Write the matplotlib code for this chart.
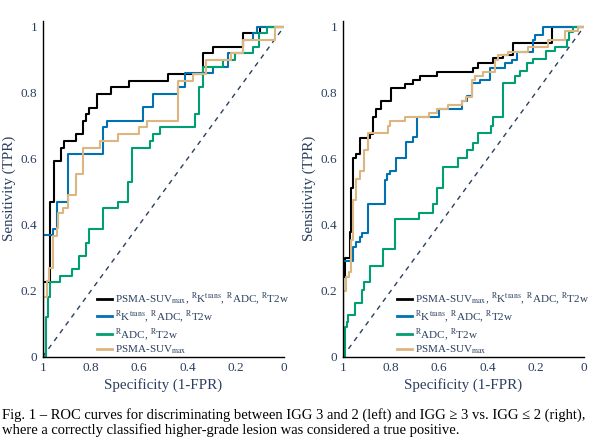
import matplotlib
matplotlib.use("Agg")
import matplotlib.pyplot as plt
import numpy as np

plt.rcParams["font.family"] = ["Liberation Serif", "DejaVu Serif"]
plt.rcParams["mathtext.fontset"] = "stix"

# ROC corner points (FPR, TPR); x axis shows specificity = 1 - FPR
left_all_fpr = [0, 0, 0.03, 0.03, 0.047, 0.047, 0.076, 0.076, 0.09, 0.09, 0.138, 0.138, 0.166, 0.166,
                0.179, 0.179, 0.193, 0.193, 0.224, 0.224, 0.282, 0.282, 0.356, 0.356, 0.518, 0.518,
                0.663, 0.663, 0.707, 0.707, 0.83, 0.83, 0.9, 0.9, 1]
left_all_tpr = [0, 0.227, 0.227, 0.47, 0.47, 0.593, 0.593, 0.633, 0.633, 0.654, 0.654, 0.674, 0.674, 0.714,
                0.714, 0.735, 0.735, 0.755, 0.755, 0.796, 0.796, 0.816, 0.816, 0.836, 0.836, 0.857,
                0.857, 0.919, 0.919, 0.939, 0.939, 0.98, 0.98, 1, 1]

left_mri_fpr = [0, 0, 0.044, 0.044, 0.06, 0.06, 0.104, 0.104, 0.251, 0.251, 0.265, 0.265, 0.414, 0.414,
                0.458, 0.458, 0.559, 0.559, 0.59, 0.59, 0.707, 0.707, 0.769, 0.769, 0.829, 0.829,
                0.87, 0.87, 0.887, 0.887, 1]
left_mri_tpr = [0, 0.369, 0.369, 0.386, 0.386, 0.47, 0.47, 0.613, 0.613, 0.695, 0.695, 0.715, 0.715, 0.756,
                0.756, 0.796, 0.796, 0.818, 0.818, 0.859, 0.859, 0.879, 0.879, 0.919, 0.919, 0.96,
                0.96, 0.98, 0.98, 1, 1]

left_adc_fpr = [0, 0.012, 0.012, 0.023, 0.023, 0.03, 0.03, 0.072, 0.072, 0.12, 0.12, 0.15, 0.15, 0.179,
                0.179, 0.193, 0.193, 0.251, 0.251, 0.313, 0.313, 0.355, 0.355, 0.372, 0.372, 0.445,
                0.445, 0.458, 0.458, 0.486, 0.486, 0.631, 0.631, 0.649, 0.649, 0.663, 0.663, 0.749,
                0.749, 0.797, 0.797, 0.87, 0.87, 0.898, 0.898, 0.928, 0.928, 1]
left_adc_tpr = [0, 0, 0.121, 0.121, 0.182, 0.182, 0.227, 0.227, 0.245, 0.245, 0.265, 0.265, 0.305, 0.305,
                0.345, 0.345, 0.386, 0.386, 0.45, 0.45, 0.47, 0.47, 0.53, 0.53, 0.633, 0.633,
                0.654, 0.654, 0.674, 0.674, 0.695, 0.695, 0.735, 0.735, 0.816, 0.816, 0.879, 0.879,
                0.899, 0.899, 0.919, 0.919, 0.939, 0.939, 0.98, 0.98, 1, 1]

left_suv_fpr = [0, 0, 0.017, 0.017, 0.025, 0.025, 0.044, 0.044, 0.06, 0.06, 0.065, 0.065, 0.085, 0.085,
                0.106, 0.106, 0.138, 0.138, 0.166, 0.166, 0.237, 0.237, 0.313, 0.313, 0.4, 0.4,
                0.431, 0.431, 0.559, 0.559, 0.622, 0.622, 0.677, 0.677, 0.78, 0.78, 0.83, 0.83,
                0.963, 0.963, 1]
left_suv_tpr = [0, 0.182, 0.182, 0.23, 0.23, 0.268, 0.268, 0.367, 0.367, 0.389, 0.389, 0.434, 0.434, 0.45,
                0.45, 0.49, 0.49, 0.553, 0.553, 0.633, 0.633, 0.654, 0.654, 0.674, 0.674, 0.695,
                0.695, 0.715, 0.715, 0.836, 0.836, 0.857, 0.857, 0.899, 0.899, 0.919, 0.919, 0.96,
                0.96, 1, 1]

right_all_fpr = [0, 0, 0.01, 0.01, 0.032, 0.032, 0.036, 0.036, 0.044, 0.044, 0.055, 0.055, 0.072, 0.072,
                 0.113, 0.113, 0.124, 0.124, 0.138, 0.138, 0.157, 0.157, 0.199, 0.199, 0.258, 0.258,
                 0.29, 0.29, 0.32, 0.32, 0.39, 0.39, 0.541, 0.541, 0.562, 0.562, 0.624, 0.624,
                 0.666, 0.666, 0.707, 0.707, 0.866, 0.866, 1]
right_all_tpr = [0, 0.242, 0.242, 0.3, 0.3, 0.379, 0.379, 0.512, 0.512, 0.601, 0.601, 0.614, 0.614, 0.664,
                 0.664, 0.675, 0.675, 0.727, 0.727, 0.75, 0.75, 0.776, 0.776, 0.813, 0.813, 0.826,
                 0.826, 0.838, 0.838, 0.851, 0.851, 0.864, 0.864, 0.874, 0.874, 0.889, 0.889, 0.904,
                 0.904, 0.914, 0.914, 0.95, 0.95, 1, 1]

right_mri_fpr = [0, 0, 0.043, 0.043, 0.057, 0.057, 0.07, 0.07, 0.08, 0.08, 0.106, 0.106, 0.177, 0.177,
                 0.185, 0.185, 0.196, 0.196, 0.22, 0.22, 0.262, 0.262, 0.293, 0.293, 0.307, 0.307,
                 0.4, 0.4, 0.493, 0.493, 0.515, 0.515, 0.534, 0.534, 0.569, 0.569, 0.61, 0.61,
                 0.673, 0.673, 0.7, 0.7, 0.721, 0.721, 0.787, 0.787, 0.797, 0.797, 0.829, 0.829, 1]
right_mri_tpr = [0, 0.29, 0.29, 0.333, 0.333, 0.348, 0.348, 0.364, 0.364, 0.376, 0.376, 0.463, 0.463, 0.535,
                 0.535, 0.554, 0.554, 0.564, 0.564, 0.601, 0.601, 0.652, 0.652, 0.665, 0.665, 0.727,
                 0.727, 0.75, 0.75, 0.776, 0.776, 0.79, 0.79, 0.828, 0.828, 0.838, 0.838, 0.874,
                 0.874, 0.889, 0.889, 0.9, 0.9, 0.924, 0.924, 0.96, 0.96, 0.975, 0.975, 1, 1]

right_adc_fpr = [0, 0.008, 0.008, 0.018, 0.018, 0.023, 0.023, 0.051, 0.051, 0.079, 0.079, 0.09, 0.09,
                 0.113, 0.113, 0.166, 0.166, 0.217, 0.217, 0.317, 0.317, 0.373, 0.373, 0.392, 0.392,
                 0.414, 0.414, 0.479, 0.479, 0.514, 0.514, 0.541, 0.541, 0.562, 0.562, 0.613, 0.613,
                 0.622, 0.622, 0.666, 0.666, 0.714, 0.714, 0.735, 0.735, 0.763, 0.763, 0.787, 0.787,
                 0.843, 0.843, 0.88, 0.88, 0.928, 0.928, 0.939, 0.939, 0.953, 0.953, 1]
right_adc_tpr = [0, 0, 0.09, 0.09, 0.106, 0.106, 0.126, 0.126, 0.162, 0.162, 0.202, 0.202, 0.227,
                 0.227, 0.275, 0.275, 0.325, 0.325, 0.416, 0.416, 0.436, 0.436, 0.463, 0.463, 0.51,
                 0.51, 0.576, 0.576, 0.601, 0.601, 0.626, 0.626, 0.648, 0.648, 0.677, 0.677, 0.699,
                 0.699, 0.727, 0.727, 0.828, 0.828, 0.851, 0.851, 0.867, 0.867, 0.889, 0.889, 0.901,
                 0.901, 0.927, 0.927, 0.939, 0.939, 0.96, 0.96, 0.985, 0.985, 1, 1]

right_suv_fpr = [0, 0, 0.012, 0.012, 0.025, 0.025, 0.036, 0.036, 0.042, 0.042, 0.055, 0.055, 0.072, 0.072,
                 0.09, 0.09, 0.106, 0.106, 0.186, 0.186, 0.196, 0.196, 0.258, 0.258, 0.359, 0.359,
                 0.39, 0.39, 0.438, 0.438, 0.496, 0.496, 0.511, 0.511, 0.537, 0.537, 0.55, 0.55,
                 0.583, 0.583, 0.631, 0.631, 0.645, 0.645, 0.686, 0.686, 0.769, 0.769, 0.852, 0.852,
                 0.921, 0.921, 0.976, 0.976, 1]
right_suv_tpr = [0, 0.2, 0.2, 0.24, 0.24, 0.256, 0.256, 0.354, 0.354, 0.475, 0.475, 0.537, 0.537, 0.564,
                 0.564, 0.626, 0.626, 0.677, 0.677, 0.699, 0.699, 0.715, 0.715, 0.727, 0.727, 0.739,
                 0.739, 0.751, 0.751, 0.763, 0.763, 0.776, 0.776, 0.788, 0.788, 0.838, 0.838, 0.852,
                 0.852, 0.864, 0.864, 0.899, 0.899, 0.914, 0.914, 0.924, 0.924, 0.939, 0.939, 0.96,
                 0.96, 0.988, 0.988, 1, 1]

labels = [r"PSMA-SUV$_{\mathrm{max}}$, $^{\mathrm{R}}$K$^{\mathrm{trans}}$, $^{\mathrm{R}}$ADC, $^{\mathrm{R}}$T2w",
          r"$^{\mathrm{R}}$K$^{\mathrm{trans}}$, $^{\mathrm{R}}$ADC, $^{\mathrm{R}}$T2w",
          r"$^{\mathrm{R}}$ADC, $^{\mathrm{R}}$T2w",
          r"PSMA-SUV$_{\mathrm{max}}$"]
colors = ["#000000", "#0072B2", "#009E73", "#DDB67F"]
ticks = [0, 0.2, 0.4, 0.6, 0.8, 1]
tick_labels = ["0", "0.2", "0.4", "0.6", "0.8", "1"]
caption = ("Fig. 1 \u2013 ROC curves for discriminating between IGG 3 and 2 (left) and IGG \u2265 3 vs. IGG \u2264 2 (right),\n"
           "where a correctly classified higher-grade lesion was considered a true positive.")

panels = [
    [(left_all_fpr, left_all_tpr), (left_mri_fpr, left_mri_tpr),
     (left_adc_fpr, left_adc_tpr), (left_suv_fpr, left_suv_tpr)],
    [(right_all_fpr, right_all_tpr), (right_mri_fpr, right_mri_tpr),
     (right_adc_fpr, right_adc_tpr), (right_suv_fpr, right_suv_tpr)],
]

txt = "#2a3f5f"
fig = plt.figure(figsize=(6, 4.41), dpi=100)
for i, curves in enumerate(panels):
    ax = fig.add_axes([0.0712 + 0.5 * i, 0.1912, 0.4022, 0.7617])
    ax.plot([1, 0], [0, 1], ls=(0, (3.5, 3.5)), color=txt, lw=1.0, zorder=1)
    for (fpr, tpr), c, lab in zip(curves, colors, labels):
        ax.plot(1 - np.asarray(fpr), tpr, color=c, lw=1.5, label=lab, zorder=2)
    ax.set_xlim(1, 0)
    ax.set_ylim(0, 1.018)
    ax.set_xticks(ticks)
    ax.set_xticklabels(tick_labels)
    ax.set_yticks(ticks)
    ax.set_yticklabels(tick_labels)
    ax.tick_params(length=0, labelsize=9.5, labelcolor=txt, pad=4)
    for s in ("top", "right"):
        ax.spines[s].set_visible(False)
    for s in ("left", "bottom"):
        ax.spines[s].set_linewidth(1.0)
    ax.set_xlabel("Specificity (1-FPR)", fontsize=10.8, color=txt, labelpad=3)
    ax.set_ylabel("Sensitivity (TPR)", fontsize=10.8, color=txt, labelpad=3)
    leg = ax.legend(loc="lower left", bbox_to_anchor=(0.215, -0.005), frameon=False,
                    fontsize=8, handlelength=1.4, handletextpad=0.2, labelspacing=0.1,
                    borderpad=0.2, borderaxespad=0)
    for t in leg.get_texts():
        t.set_color(txt)
    for h in leg.get_lines():
        h.set_linewidth(2.0)

fig.text(0.004, 0.01, caption, fontsize=10.5, ha="left", va="bottom", linespacing=1.1)
fig.savefig("out.png", dpi=100)
